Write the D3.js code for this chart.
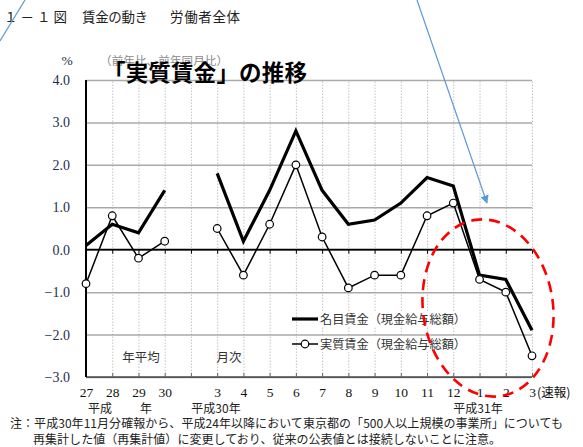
<!DOCTYPE html>
<html><head><meta charset="utf-8">
<script src="https://cdn.jsdelivr.net/npm/d3@7"></script>
<style>body{margin:0;background:#fff}svg{display:block}</style>
</head><body><svg id="c" width="583" height="447"></svg>
<script>
// ---- data ----
const slots = ["H27","H28","H29","H30","gap","M03","M04","M05","M06","M07","M08","M09","M10","M11","M12","N01","N02","N03"];
const slotLabels = ["27","28","29","30","","3","4","5","6","7","8","9","10","11","12","1","2","3"];
const nominal = [0.1,0.6,0.4,1.4,null,1.8,0.2,1.4,2.8,1.4,0.6,0.7,1.1,1.7,1.5,-0.6,-0.7,-1.9];
const real    = [-0.8,0.8,-0.2,0.2,null,0.5,-0.6,0.6,2.0,0.3,-0.9,-0.6,-0.6,0.8,1.1,-0.7,-1.0,-2.5];
const yTicks = [4,3,2,1,0,-1,-2,-3];
const seriesNames = ["名目賃金（現金給与総額）","実質賃金（現金給与総額）"];

const svg = d3.select("#c");
const L = 86, R = 532, T = 80, B = 377;
const x = d3.scalePoint().domain(slots).range([L, R]);
const y = d3.scaleLinear().domain([-3, 4]).range([B, T]);
const serif = "'Liberation Serif','DejaVu Serif',serif";
const jp = "'Noto Sans CJK JP','Noto Sans',sans-serif";

// vertical dotted gridlines
svg.append("g").attr("transform", `translate(0,${B})`)
  .call(d3.axisBottom(x).tickSize(-(B - T)).tickFormat(""))
  .call(g => g.select(".domain").remove())
  .call(g => g.selectAll("line").attr("stroke", "#c4c4c4").attr("stroke-dasharray", "1.5,1.5").attr("stroke-width", 1));

// horizontal gridlines
svg.append("g").attr("transform", `translate(${L},0)`)
  .call(d3.axisLeft(y).tickValues(yTicks).tickSize(-(R - L)).tickFormat(""))
  .call(g => g.select(".domain").remove())
  .call(g => g.selectAll("line").attr("stroke", "#aaaaaa").attr("stroke-width", 1.5));

// zero line with ticks below
svg.append("g").attr("transform", `translate(0,${y(0)})`)
  .call(d3.axisBottom(x).tickSize(4).tickFormat(""))
  .call(g => g.select(".domain").attr("d", `M${L},0H${R}`).attr("stroke", "#000").attr("stroke-width", 1.8))
  .call(g => g.selectAll("line").attr("stroke", "#000").attr("stroke-width", 1));

// bottom axis line with ticks up
svg.append("g").attr("transform", `translate(0,${B})`)
  .call(d3.axisTop(x).tickSize(4).tickFormat(""))
  .call(g => g.select(".domain").attr("d", `M${L},0H${R}`).attr("stroke", "#000").attr("stroke-width", 1.2))
  .call(g => g.selectAll("line").attr("stroke", "#666").attr("stroke-width", 1));

// left axis
svg.append("g").attr("transform", `translate(${L},0)`)
  .call(d3.axisLeft(y).tickValues(yTicks).tickSize(0).tickPadding(16).tickFormat(d3.format(".1f")))
  .call(g => g.select(".domain").attr("d", `M0,${T}V${B}`).attr("stroke", "#000").attr("stroke-width", 2))
  .call(g => g.selectAll("text").attr("font-family", serif).attr("font-size", 14).attr("fill", "#1f2d4d"));

// x labels
svg.append("g").attr("transform", `translate(0,${B})`)
  .call(d3.axisBottom(x).tickSize(0).tickPadding(10).tickFormat((d, i) => slotLabels[i]))
  .call(g => g.select(".domain").remove())
  .call(g => g.selectAll("text").attr("font-family", serif).attr("font-size", 13.5).attr("fill", "#111"));
svg.append("text").attr("x", x("N03") + 5).attr("y", 397).attr("font-family", jp).attr("font-size", 12.5).attr("fill", "#111").text("(速報)");

// group labels
const addText = (t, xx, yy, opts = {}) => svg.append("text").attr("x", xx).attr("y", yy)
  .attr("font-family", opts.font || jp).attr("font-size", opts.size || 12.5)
  .attr("fill", opts.fill || "#222").attr("text-anchor", opts.anchor || "start")
  .attr("font-weight", opts.weight || "normal").text(t);
addText("平成", 100, 413, {anchor: "middle", size: 12});
addText("年", 146, 413, {anchor: "middle", size: 12});
addText("平成30年", 216, 413, {anchor: "middle", size: 12});
addText("平成31年", 478, 413, {anchor: "middle", size: 12});
addText("年平均", 141, 362, {anchor: "middle", fill: "#333"});
addText("月次", 229, 362, {anchor: "middle", fill: "#333"});

// lines
const line = d3.line().defined(d => d.v != null).x(d => x(d.k)).y(d => y(d.v));
const nomData = slots.map((k, i) => ({k, v: nominal[i]}));
const realData = slots.map((k, i) => ({k, v: real[i]}));
svg.append("path").datum(nomData).attr("d", line).attr("fill", "none").attr("stroke", "#000").attr("stroke-width", 3.2).attr("stroke-linejoin", "miter");
svg.append("path").datum(realData).attr("d", line).attr("fill", "none").attr("stroke", "#000").attr("stroke-width", 1.5);
svg.append("g").selectAll("circle").data(realData.filter(d => d.v != null)).join("circle")
  .attr("cx", d => x(d.k)).attr("cy", d => y(d.v)).attr("r", 3.8)
  .attr("fill", "#fff").attr("stroke", "#000").attr("stroke-width", 1.2);

// legend
const lg = svg.append("g");
[0, 1].forEach(i => {
  const yy = 319 + i * 25;
  lg.append("rect").attr("x", 319).attr("y", yy - 8).attr("width", 150).attr("height", 16).attr("fill", "#fff");
  lg.append("line").attr("x1", 292).attr("x2", 318).attr("y1", yy).attr("y2", yy)
    .attr("stroke", "#000").attr("stroke-width", i === 0 ? 3.2 : 1.5);
  if (i === 1) lg.append("circle").attr("cx", 305).attr("cy", yy).attr("r", 3.8).attr("fill", "#fff").attr("stroke", "#000").attr("stroke-width", 1.2);
  lg.append("text").attr("x", 320).attr("y", yy + 4.5).attr("font-family", jp).attr("font-size", 12.2)
    .attr("fill", "#333").attr("textLength", 146).text(seriesNames[i]);
});

// headings
addText("１－１図", 4, 22, {size: 13.5, fill: "#222"}).attr("textLength", 63);
addText("賃金の動き", 82, 22, {size: 13.5, fill: "#222"}).attr("textLength", 66);
addText("労働者全体", 170, 22, {size: 13.5, fill: "#222"}).attr("textLength", 70);
addText("%", 67, 65, {font: serif, size: 13.5, anchor: "middle", fill: "#1f2d4d"});
addText("（前年比、前年同月比）", 100, 65, {size: 11.5, fill: "#888"}).attr("textLength", 128);
addText("「実質賃金」の推移", 103, 81, {size: 22.5, weight: "bold", fill: "#000"}).attr("textLength", 204);

// footnote
addText("注：平成30年11月分確報から、平成24年以降において東京都の「500人以上規模の事業所」についても", 10, 428, {size: 12, fill: "#222"}).attr("textLength", 553);
addText("再集計した値（再集計値）に変更しており、従来の公表値とは接続しないことに注意。", 33, 444, {size: 12, fill: "#222"}).attr("textLength", 468);

// annotations
const defs = svg.append("defs");
defs.append("marker").attr("id", "ah").attr("viewBox", "0 0 10 10").attr("refX", 9).attr("refY", 5)
  .attr("markerWidth", 7).attr("markerHeight", 7).attr("orient", "auto")
  .append("path").attr("d", "M0,0L10,5L0,10z").attr("fill", "#5b9bd5");
svg.append("line").attr("x1", 417).attr("y1", 0).attr("x2", 487).attr("y2", 203)
  .attr("stroke", "#5b9bd5").attr("stroke-width", 1.2).attr("marker-end", "url(#ah)");
svg.append("line").attr("x1", 0).attr("y1", 41).attr("x2", 25).attr("y2", 0)
  .attr("stroke", "#5b9bd5").attr("stroke-width", 1.2);
svg.append("ellipse").attr("cx", 0).attr("cy", 0).attr("rx", 65).attr("ry", 89)
  .attr("transform", "translate(488,308) rotate(-8)")
  .attr("fill", "none").attr("stroke", "#ff0000").attr("stroke-width", 2.6).attr("stroke-dasharray", "11,7");
</script></body></html>
